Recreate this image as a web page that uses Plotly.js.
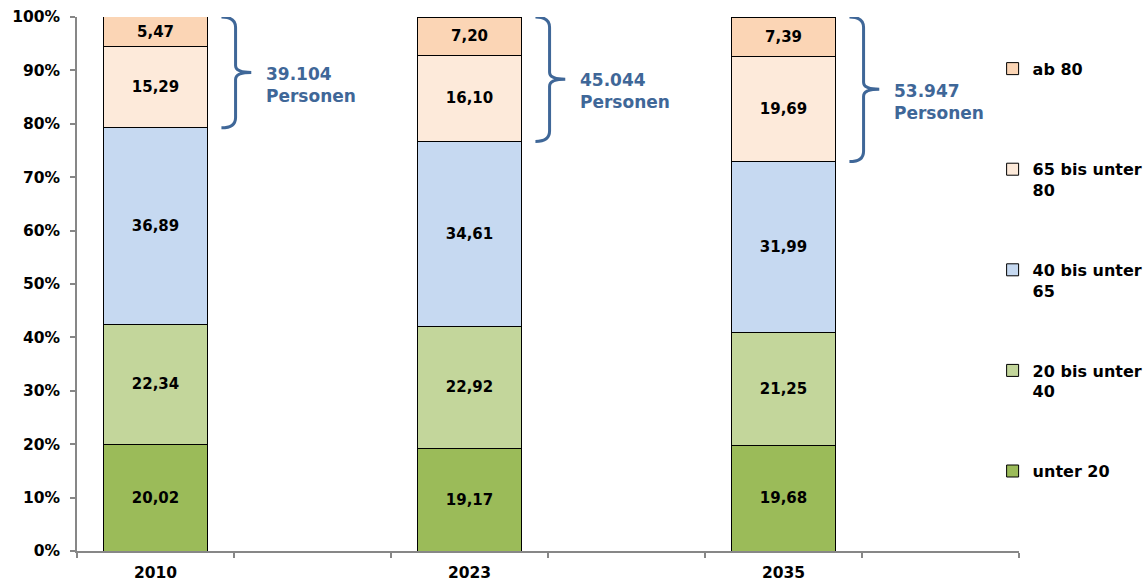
<!DOCTYPE html>
<html><head><meta charset="utf-8">
<script src="https://cdn.plot.ly/plotly-3.0.1.min.js"></script>
<style>html,body{margin:0;padding:0;background:#fff}#chart{width:1147px;height:585px}</style>
</head><body><div id="chart"></div>
<script>
// ---- data ----
const years = ['2010', '2023', '2035'];
const axisCategories = ['2010', ' ', '2023', '  ', '2035', '   '];
const seriesNames = ['unter 20', '20 bis unter<br>40', '40 bis unter<br>65', '65 bis unter<br>80', 'ab 80<br>\u00a0'];
const unter20 = [20.02, 19.17, 19.68];
const bis40 = [22.34, 22.92, 21.25];
const bis65 = [36.89, 34.61, 31.99];
const bis80 = [15.29, 16.10, 19.69];
const ab80 = [5.47, 7.20, 7.39];
const persons = ['39.104', '45.044', '53.947'];

// ---- style ----
const colors = ['#9BBB59', '#C3D69B', '#C6D9F1', '#FDEADA', '#FBD5B5'];
const FONT = 'DejaVu Sans, Arial, sans-serif';
const axisGrey = '#878787';
const braceBlue = '#3F6798';

const seriesValues = [unter20, bis40, bis65, bis80, ab80];
const traces = seriesValues.map((vals, i) => ({
  type: 'bar',
  name: seriesNames[i],
  x: years,
  y: vals,
  width: 0.66,
  marker: {color: colors[i], line: {color: '#000000', width: 1}},
  texttemplate: '%{y:.2f}',
  textposition: 'inside',
  insidetextanchor: 'middle',
  textangle: 0,
  constraintext: 'none',
  textfont: {family: FONT, size: 15, color: '#000000', weight: 'bold'},
  legendgroup: 'g' + i,
  legendrank: seriesValues.length - i,
  hoverinfo: 'skip'
}));

const nCat = axisCategories.length;
const catToPaper = (idx, off) => (idx + 0.5 + off) / nCat;

const shapes = [];
const annotations = [];
years.forEach((yr, k) => {
  const idx = axisCategories.indexOf(yr);
  const top = 100;
  const bottom = 100 - bis80[k] - ab80[k];
  const mid = (top + bottom) / 2;
  const xL = catToPaper(idx, 0.42), xV = catToPaper(idx, 0.51), xT = catToPaper(idx, 0.61);
  const r = 1.3;
  const path = `M${xL},${top} Q${xV},${top} ${xV},${top - r * 1.5} L${xV},${mid + r} Q${xV},${mid} ${xT},${mid} Q${xV},${mid} ${xV},${mid - r} L${xV},${bottom + r * 1.5} Q${xV},${bottom} ${xL},${bottom}`;
  shapes.push({type: 'path', xref: 'paper', yref: 'y', path: path, line: {color: braceBlue, width: 3}});
  annotations.push({
    xref: 'paper', yref: 'y', x: catToPaper(idx, 0.69), y: mid - 2.3,
    xanchor: 'left', yanchor: 'middle', align: 'left', showarrow: false,
    text: persons[k] + '<br>Personen',
    font: {family: FONT, size: 17, color: braceBlue, weight: 'bold'}
  });
});

const layout = {
  width: 1147, height: 585,
  margin: {l: 77, r: 128, t: 17, b: 34, pad: 0, autoexpand: false},
  paper_bgcolor: '#ffffff', plot_bgcolor: '#ffffff',
  separators: ',.',
  barmode: 'stack',
  showlegend: true,
  font: {family: FONT, color: '#000000'},
  xaxis: {
    type: 'category', categoryorder: 'array', categoryarray: axisCategories,
    range: [-0.5, nCat - 0.5], fixedrange: true,
    tickson: 'boundaries', ticks: 'outside', ticklen: 5, tickcolor: axisGrey, tickwidth: 1.5,
    showline: true, linecolor: axisGrey, linewidth: 1.5,
    showgrid: false, zeroline: false,
    tickfont: {family: FONT, size: 15.5, color: '#000000', weight: 'bold'},
    ticklabelstandoff: 7
  },
  yaxis: {
    range: [0, 100], dtick: 10, ticksuffix: '%', fixedrange: true,
    ticks: 'outside', ticklen: 5, tickcolor: axisGrey, tickwidth: 1.5,
    showline: true, linecolor: axisGrey, linewidth: 1.5,
    showgrid: false, zeroline: false,
    tickfont: {family: FONT, size: 15.5, color: '#000000', weight: 'bold'},
    ticklabelstandoff: 7
  },
  legend: {
    x: 0.972, xanchor: 'left', y: 0.935, yanchor: 'top',
    traceorder: 'grouped', tracegroupgap: 56, valign: 'top',
    bgcolor: 'rgba(0,0,0,0)',
    font: {family: FONT, size: 16, color: '#000000', weight: 'bold'}
  },
  shapes: shapes,
  annotations: annotations
};

Plotly.newPlot('chart', traces, layout, {displayModeBar: false, responsive: false});
</script></body></html>
